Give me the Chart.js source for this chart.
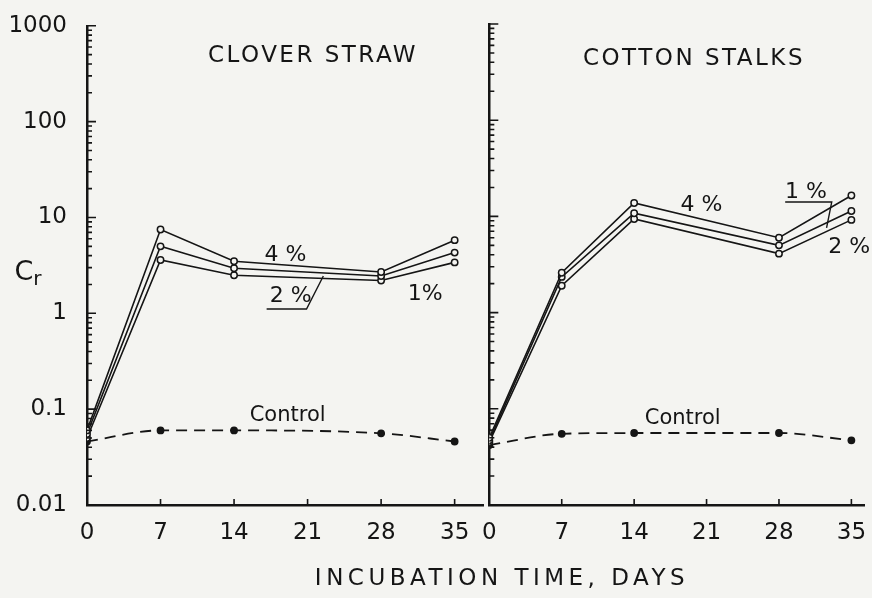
<!DOCTYPE html>
<html>
<head>
<meta charset="utf-8">
<script src="https://cdn.jsdelivr.net/npm/chart.js@4.4.0/dist/chart.umd.min.js"></script>
<style>
    body { margin: 0; background: #f4f4f1; }
    #wrap { position: relative; width: 872px; height: 598px; overflow: hidden; font-family: "DejaVu Sans", sans-serif; color: #151515; }
    .box { position: absolute; top: 0; height: 598px; }
    .txt { position: absolute; white-space: nowrap; transform: translate(-50%, -50%); }
    .title { font-size: 23px; letter-spacing: 2.5px; }
    .axis { font-size: 23px; letter-spacing: 4.5px; }
    .pct { font-size: 22px; }
    .ctl { font-size: 21px; }
</style>
</head>
<body>
<div id="wrap">
    <div class="box" style="left:0;width:492px"><canvas id="leftChart"></canvas></div>
    <div class="box" style="left:476px;width:396px"><canvas id="rightChart"></canvas></div>
    <div class="txt title" style="left:313px;top:54px">CLOVER STRAW</div>
    <div class="txt title" style="left:694px;top:57px">COTTON STALKS</div>
    <div class="txt axis" style="left:502px;top:577px">INCUBATION TIME, DAYS</div>
    <div class="txt" style="left:28px;top:270px;font-size:27px">C<span style="font-size:20px;position:relative;top:5px">r</span></div>
</div>
<script>
// days sampled
const days = [0, 7, 14, 28, 35];
const xTicks = [0, 7, 14, 21, 28, 35];
const yTicks = [0.01, 0.1, 1, 10, 100, 1000];
const yTickLabels = ['0.01', '0.1', '1', '10', '100', '1000'];

// clover straw
const clover4 = [0.06, 7.5, 3.5, 2.7, 5.8];
const clover2 = [0.055, 5.0, 2.95, 2.45, 4.3];
const clover1 = [0.05, 3.6, 2.5, 2.2, 3.4];
const cloverControl = [0.046, 0.06, 0.06, 0.056, 0.046];

// cotton stalks
const cotton4 = [0.05, 2.6, 13.8, 6.0, 16.5];
const cotton2 = [0.047, 2.35, 10.8, 5.0, 11.4];
const cotton1 = [0.045, 1.9, 9.4, 4.1, 9.2];
const cottonControl = [0.042, 0.055, 0.056, 0.056, 0.047];

const ink = '#151515';
const paper = '#f4f4f1';

function pts(vals) {
    return vals.map((v, i) => ({ x: days[i], y: v }));
}

function pctSet(vals) {
    return {
        data: pts(vals),
        borderColor: ink,
        borderWidth: 1.6,
        pointRadius: 3.2,
        pointBackgroundColor: paper,
        pointBorderColor: ink,
        pointBorderWidth: 1.5,
        tension: 0
    };
}

function controlSet(vals) {
    return {
        data: pts(vals),
        borderColor: ink,
        borderWidth: 1.8,
        borderDash: [11, 7],
        pointRadius: 3,
        pointBackgroundColor: ink,
        pointBorderColor: ink,
        tension: 0.4,
        cubicInterpolationMode: 'monotone'
    };
}

// ticks inside the axes + leader lines
function decor(leaders) {
    return {
        id: 'decor',
        afterDraw(chart) {
            const { ctx, chartArea, scales: { x, y } } = chart;
            ctx.save();
            ctx.strokeStyle = ink;
            ctx.lineWidth = 1.6;
            ctx.beginPath();
            yTicks.forEach(v => {
                const py = y.getPixelForValue(v);
                ctx.moveTo(chartArea.left, py);
                ctx.lineTo(chartArea.left + 9, py);
                if (v < 1000) {
                    for (let k = 2; k <= 9; k++) {
                        const pk = y.getPixelForValue(v * k);
                        ctx.moveTo(chartArea.left, pk);
                        ctx.lineTo(chartArea.left + 5, pk);
                    }
                }
            });
            xTicks.forEach(d => {
                if (d === 0) return;
                const px = x.getPixelForValue(d);
                ctx.moveTo(px, chartArea.bottom);
                ctx.lineTo(px, chartArea.bottom - 6);
            });
            ctx.stroke();
            ctx.lineWidth = 1.4;
            leaders.forEach(seg => {
                ctx.beginPath();
                seg.forEach((p, i) => {
                    const px = x.getPixelForValue(p[0]);
                    const py = y.getPixelForValue(p[1]);
                    if (i === 0) ctx.moveTo(px, py); else ctx.lineTo(px, py);
                });
                ctx.stroke();
            });
            ctx.restore();
        }
    };
}

function makeChart(id, sets, xMax, yWidth, padRight, showY, leaders) {
    return new Chart(document.getElementById(id), {
        type: 'line',
        data: { datasets: sets },
        options: {
            animation: false,
            responsive: true,
            maintainAspectRatio: false,
            layout: { padding: { top: 24, right: padRight, bottom: 0, left: 0 } },
            plugins: { legend: { display: false }, tooltip: { enabled: false } },
            scales: {
                x: {
                    type: 'linear',
                    min: 0,
                    max: xMax,
                    afterBuildTicks: s => { s.ticks = xTicks.map(v => ({ value: v })); },
                    afterFit: s => { s.height = 93; },
                    grid: { display: false },
                    border: { display: true, color: ink, width: 2.5 },
                    ticks: { color: ink, padding: 6, maxRotation: 0, font: { family: 'DejaVu Sans', size: 23 } }
                },
                y: {
                    type: 'logarithmic',
                    min: 0.01,
                    max: 1000,
                    afterBuildTicks: s => { s.ticks = yTicks.map(v => ({ value: v })); },
                    afterFit: s => { s.width = yWidth; },
                    grid: { display: false },
                    border: { display: true, color: ink, width: 2.5 },
                    ticks: {
                        display: showY,
                        color: ink,
                        padding: 12,
                        font: { family: 'DejaVu Sans', size: 23 },
                        callback: v => yTickLabels[yTicks.indexOf(v)]
                    }
                }
            }
        },
        plugins: [decor(leaders)]
    });
}

const leftChart = makeChart('leftChart',
    [pctSet(clover4), pctSet(clover2), pctSet(clover1), controlSet(cloverControl)],
    37.7, 87, 9, true,
    [[[17.1, 1.11], [20.9, 1.11], [22.5, 2.45]]]);

const rightChart = makeChart('rightChart',
    [pctSet(cotton4), pctSet(cotton2), pctSet(cotton1), controlSet(cottonControl)],
    36.3, 7, 5, false,
    [[[28.6, 14.1], [33.1, 14.1], [32.6, 7.6]]]);

// text labels placed in data coordinates
function addLabel(chart, offsetX, text, cls, day, val) {
    const el = document.createElement('div');
    el.className = 'txt ' + cls;
    el.textContent = text;
    el.style.left = (offsetX + chart.scales.x.getPixelForValue(day)) + 'px';
    el.style.top = chart.scales.y.getPixelForValue(val) + 'px';
    document.getElementById('wrap').appendChild(el);
}

addLabel(leftChart, 0, '4 %', 'pct', 18.9, 4.3);
addLabel(leftChart, 0, '2 %', 'pct', 19.4, 1.6);
addLabel(leftChart, 0, '1%', 'pct', 32.2, 1.68);
addLabel(leftChart, 0, 'Control', 'ctl', 19.1, 0.09);
addLabel(rightChart, 476, '4 %', 'pct', 20.5, 13.8);
addLabel(rightChart, 476, '1 %', 'pct', 30.6, 18.8);
addLabel(rightChart, 476, '2 %', 'pct', 34.8, 5.0);
addLabel(rightChart, 476, 'Control', 'ctl', 18.7, 0.082);
</script>
</body>
</html>
